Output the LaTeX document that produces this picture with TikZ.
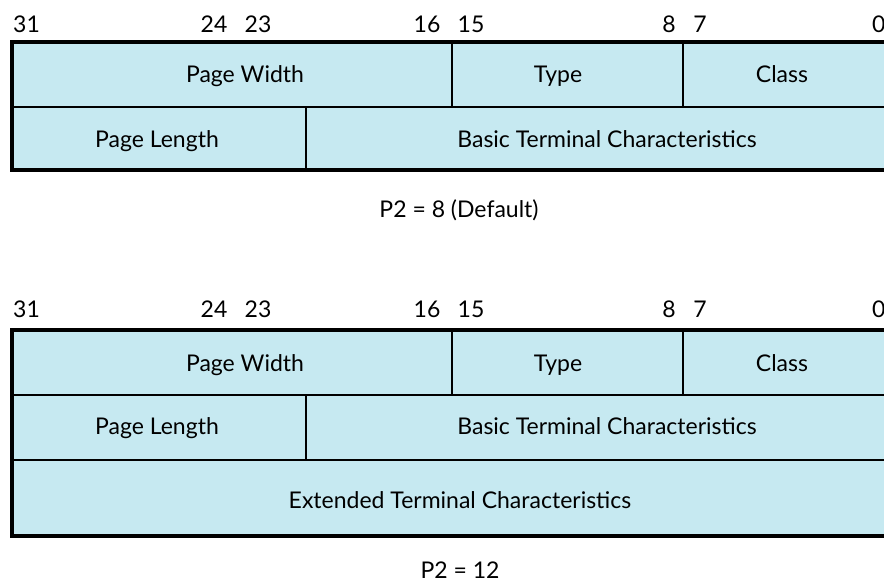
\documentclass[tikz,border=0pt]{standalone}
\usepackage{fontspec}
\setmainfont{Lato}
\usetikzlibrary{positioning}
\definecolor{regblue}{RGB}{198,233,241}

\begin{document}
\begin{tikzpicture}[
    x=1pt, y=-1pt,
    field/.style={fill=regblue},
    divider/.style={line width=1.6pt, draw=black},
    frame/.style={line width=4.5pt, draw=black, line join=miter},
    bitnum/.style={anchor=base, inner sep=0pt, font=\fontsize{23}{28}\selectfont},
    fieldtext/.style={anchor=base, inner sep=0pt, font=\fontsize{23}{28}\selectfont},
    caption/.style={anchor=base, inner sep=0pt, text depth=0pt, font=\fontsize{23}{28}\selectfont}
]
\useasboundingbox (0,0) rectangle (884,582);

% P2 = 8 layout
\begin{scope}
    \fill[field] (12,42) rectangle (892,170);
    \draw[divider] (12,107) -- (892,107);
    \draw[divider] (452,42) -- (452,107);
    \draw[divider] (683,42) -- (683,107);
    \draw[divider] (306,107) -- (306,170);
    \draw[frame] (892,42) -- (12,42) -- (12,170) -- (892,170);

    \node[bitnum, anchor=base west] (hi31) at (13,32) {31};
    \foreach \bit/\xpos in {24/214, 23/258, 16/427, 15/471, 8/669, 7/700}
        \node[bitnum] (hi\bit) at (\xpos,32) {\bit};
    \node[bitnum, anchor=base west] (hi0) at (872,32) {0};

    \node[fieldtext] (hiwidth) at (245,82) {Page Width};
    \node[fieldtext] (hitype) at (558,82) {Type};
    \node[fieldtext] (hiclass) at (782,82) {Class};
    \node[fieldtext] (hilength) at (157,147) {Page Length};
    \node[fieldtext] (hibasic) at (607,147) {Basic Terminal Characteristics};

    \node[caption] (hicap) at (459,217) {P2 = 8 (Default)};
\end{scope}

% P2 = 12 layout
\begin{scope}[yshift=-288pt]
    \fill[field] (12,42) rectangle (892,248);
    \draw[divider] (12,107) -- (892,107);
    \draw[divider] (12,172) -- (892,172);
    \draw[divider] (452,42) -- (452,107);
    \draw[divider] (683,42) -- (683,107);
    \draw[divider] (306,107) -- (306,172);
    \draw[frame] (892,42) -- (12,42) -- (12,248) -- (892,248);

    \node[bitnum, anchor=base west] (lo31) at (13,29) {31};
    \foreach \bit/\xpos in {24/214, 23/258, 16/427, 15/471, 8/669, 7/700}
        \node[bitnum] (lo\bit) at (\xpos,29) {\bit};
    \node[bitnum, anchor=base west] (lo0) at (872,29) {0};

    \node[fieldtext] (lowidth) at (245,83) {Page Width};
    \node[fieldtext] (lotype) at (558,83) {Type};
    \node[fieldtext] (loclass) at (782,83) {Class};
    \node[fieldtext] (lolength) at (157,146) {Page Length};
    \node[fieldtext] (lobasic) at (607,146) {Basic Terminal Characteristics};
    \node[fieldtext] (loext) at (460,220) {Extended Terminal Characteristics};

    \node[caption] (locap) at (460,290) {P2 = 12};
\end{scope}
\end{tikzpicture}
\end{document}
